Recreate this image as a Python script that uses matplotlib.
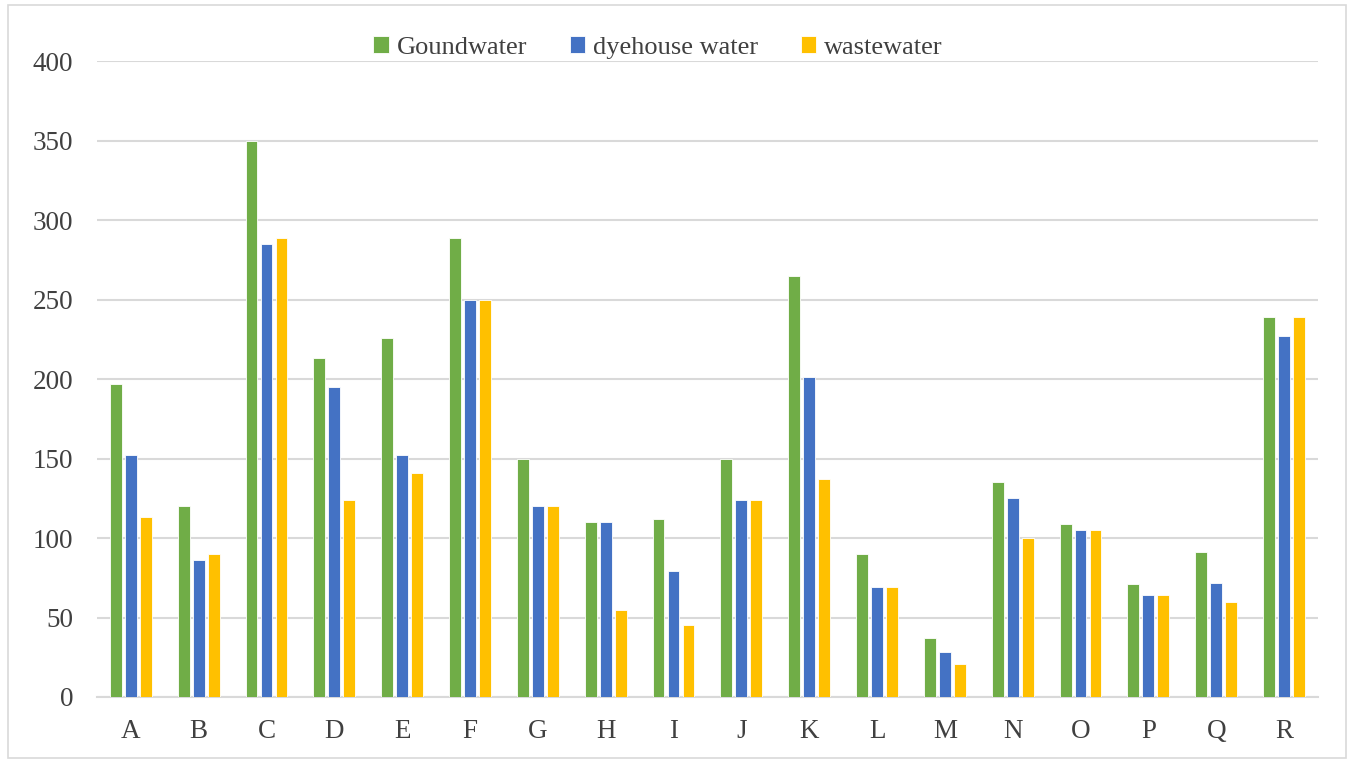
import numpy as np
import matplotlib
matplotlib.use('Agg')
import matplotlib.pyplot as plt
from matplotlib.patches import Rectangle

plt.rcParams['font.family'] = ['Liberation Serif', 'DejaVu Serif']

categorias = ['A', 'B', 'C', 'D', 'E', 'F', 'G', 'H', 'I', 'J', 'K', 'L', 'M', 'N', 'O', 'P', 'Q', 'R']
groundwater = [197, 120, 350, 213, 226, 289, 150, 110, 112, 150, 265, 90, 37, 135, 109, 71, 91, 239]
dyehouse = [152, 86, 285, 195, 152, 250, 120, 110, 79, 124, 201, 69, 28, 125, 105, 64, 72, 227]
wastewater = [113, 90, 289, 124, 141, 250, 120, 55, 45, 124, 137, 69, 21, 100, 105, 64, 60, 239]

series = [
    ('Goundwater', groundwater, '#70AD47'),
    ('dyehouse water', dyehouse, '#4472C4'),
    ('wastewater', wastewater, '#FFC000'),
]

fig = plt.figure(figsize=(13.54, 7.61), dpi=100)
ax = fig.add_axes([0.0716, 0.0841, 0.9018, 0.8357])

x = np.arange(len(categorias))
paso = 0.221
ancho = 0.175
for i, (nombre, valores, color) in enumerate(series):
    ax.bar(x + (i - 1) * paso, valores, width=ancho, color=color, label=nombre,
           edgecolor='white', linewidth=0.6, zorder=3)

ax.set_xlim(-0.5, len(categorias) - 0.5)
ax.set_ylim(0, 400)
ax.set_yticks(np.arange(0, 401, 50))
ax.set_xticks(x)
ax.set_xticklabels(categorias)
ax.grid(axis='y', color='#d9d9d9', linewidth=1.5, zorder=0)
for lado in ['top', 'right', 'left']:
    ax.spines[lado].set_visible(False)
ax.spines['bottom'].set_color('#d9d9d9')
ax.spines['bottom'].set_linewidth(1.5)
ax.tick_params(axis='both', length=0, labelsize=19.5, colors='#404040')
ax.tick_params(axis='y', pad=17)
ax.tick_params(axis='x', pad=16)

fig.legend(loc='center', bbox_to_anchor=(0.486, 0.938), ncol=3, frameon=False,
           fontsize=19, handlelength=0.6, handleheight=0.6, handletextpad=0.3,
           columnspacing=1.6, labelcolor='#404040')

fig.patches.append(Rectangle((0.006, 0.004), 0.988, 0.99, transform=fig.transFigure,
                             fill=False, edgecolor='#d9d9d9', linewidth=1.2))

plt.savefig('out.png', dpi=100)
